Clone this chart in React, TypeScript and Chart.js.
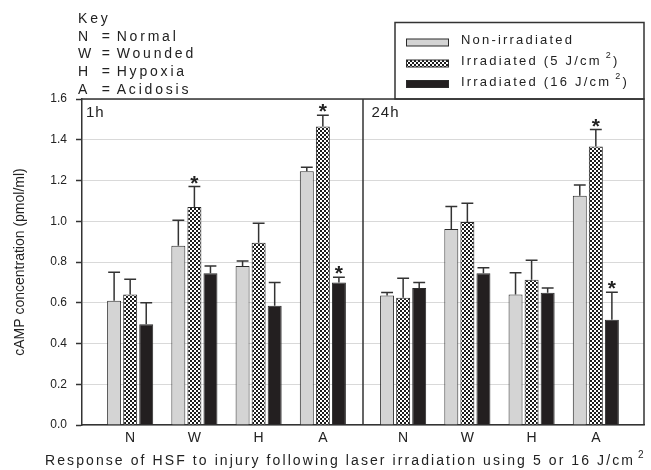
import React, { useEffect, useRef } from 'react';
import { Chart, registerables } from 'chart.js';

Chart.register(...registerables);

// ---------- data ----------
const panels = ['1h', '24h'];
const groups = ['N', 'W', 'H', 'A'];
const keyNames = ['Normal', 'Wounded', 'Hypoxia', 'Acidosis'];
const seriesLabels = ['Non-irradiated', 'Irradiated (5 J/cm²)', 'Irradiated (16 J/cm²)'];

// order: 1h (N, W, H, A), then 24h (N, W, H, A)
const nonIrradiated = [0.61, 0.88, 0.78, 1.245, 0.635, 0.962, 0.64, 1.125];
const nonIrradiatedErr = [0.14, 0.125, 0.025, 0.02, 0.015, 0.11, 0.107, 0.053];
const irradiated5 = [0.64, 1.07, 0.895, 1.465, 0.625, 0.996, 0.713, 1.367];
const irradiated5Err = [0.075, 0.1, 0.095, 0.055, 0.095, 0.092, 0.095, 0.083];
const irradiated16 = [0.495, 0.745, 0.585, 0.7, 0.673, 0.745, 0.649, 0.517];
const irradiated16Err = [0.105, 0.035, 0.115, 0.025, 0.027, 0.027, 0.024, 0.135];
const sigNon = [false, false, false, false, false, false, false, false];
const sig5 = [false, true, false, true, false, false, false, true];
const sig16 = [false, false, false, true, false, false, false, true];

const yTicks = [0, 0.2, 0.4, 0.6, 0.8, 1.0, 1.2, 1.4, 1.6];
const xTitle = 'Response of HSF to injury following laser irradiation using 5 or 16 J/cm²';
const yTitle = 'cAMP concentration (pmol/ml)';
const keyTitle = 'Key';

// ---------- layout (in bar-slot units on a linear x scale) ----------
const PANEL_SLOTS = 17.5;
const PANEL_OFFSETS = [3, 2.5];
const GROUP_STEP = 4;
const FONT = '"Liberation Sans", Arial, Helvetica, sans-serif';

function groupCenter(p: number, g: number) {
  return p * PANEL_SLOTS + PANEL_OFFSETS[p] + GROUP_STEP * g;
}

function makePattern(): CanvasPattern | string {
  const c = document.createElement('canvas');
  c.width = 4;
  c.height = 4;
  const g = c.getContext('2d');
  if (!g) return '#555';
  g.fillStyle = '#1c1c1c';
  g.fillRect(0, 0, 4, 4);
  g.fillStyle = '#ffffff';
  g.fillRect(0, 0, 2, 2);
  g.fillRect(2, 2, 2, 2);
  const ctx = document.createElement('canvas').getContext('2d');
  return (ctx && ctx.createPattern(c, 'repeat')) || '#555';
}

function drawSup(ctx: CanvasRenderingContext2D, text: string, x: number, y: number, size: number, spacing: number, supSize: number, rise: number, gap: number) {
  const parts = text.split('²');
  ctx.textAlign = 'left';
  ctx.textBaseline = 'middle';
  ctx.font = `${size}px ${FONT}`;
  (ctx as any).letterSpacing = `${spacing}px`;
  ctx.fillText(parts[0], x, y);
  let cx = x + ctx.measureText(parts[0]).width;
  if (parts.length > 1) {
    cx += gap;
    ctx.font = `${supSize}px ${FONT}`;
    ctx.fillText('2', cx, y - rise);
    cx += ctx.measureText('2').width;
    ctx.font = `${size}px ${FONT}`;
    ctx.fillText(parts[1], cx, y);
  }
  (ctx as any).letterSpacing = '0px';
}

export default function App() {
  const ref = useRef<HTMLCanvasElement | null>(null);

  useEffect(() => {
    if (!ref.current) return;
    const pattern = makePattern();
    const values = [nonIrradiated, irradiated5, irradiated16];
    const errs = [nonIrradiatedErr, irradiated5Err, irradiated16Err];
    const sigs = [sigNon, sig5, sig16];
    const fills = ['#d4d4d4', pattern, '#231f20'];

    const datasets = values.map((vals, s) => ({
      label: seriesLabels[s],
      data: vals.map((v, i) => {
        const p = Math.floor(i / groups.length);
        const g = i % groups.length;
        return { x: groupCenter(p, g) + (s - 1), y: v };
      }),
      backgroundColor: fills[s] as any,
      borderColor: '#2b2b2b',
      borderWidth: 1,
      grouped: false,
      barPercentage: 0.87,
      categoryPercentage: 1,
    }));

    const tickPositions: number[] = [];
    const tickNames: Record<string, string> = {};
    panels.forEach((_, p) => groups.forEach((g, gi) => {
      const c = groupCenter(p, gi);
      tickPositions.push(c);
      tickNames[String(c)] = g;
    }));

    const decor = {
      id: 'decor',
      afterDatasetsDraw(chart: any) {
        const ctx: CanvasRenderingContext2D = chart.ctx;
        const ys = chart.scales.y;
        ctx.save();
        datasets.forEach((ds, s) => {
          const meta = chart.getDatasetMeta(s);
          meta.data.forEach((el: any, i: number) => {
            const { x, y, width } = el.getProps(['x', 'y', 'width'], true);
            const top = ys.getPixelForValue(values[s][i] + errs[s][i]);
            const cap = width * 0.85;
            ctx.strokeStyle = '#333';
            ctx.lineWidth = 1.5;
            ctx.beginPath();
            ctx.moveTo(x, y);
            ctx.lineTo(x, top);
            ctx.moveTo(x - cap / 2, top);
            ctx.lineTo(x + cap / 2, top);
            ctx.stroke();
            if (sigs[s][i]) {
              ctx.fillStyle = '#222';
              ctx.font = `bold 21px ${FONT}`;
              ctx.textAlign = 'center';
              ctx.textBaseline = 'alphabetic';
              const m = ctx.measureText('*');
              ctx.fillText('*', x, top - 3 - m.actualBoundingBoxDescent);
            }
          });
        });
        ctx.restore();
      },
      afterDraw(chart: any) {
        const ctx: CanvasRenderingContext2D = chart.ctx;
        const { left, right, top, bottom } = chart.chartArea;
        const xs = chart.scales.x;
        ctx.save();
        ctx.strokeStyle = '#333';
        ctx.lineWidth = 1.5;
        // frame: top, right, panel divider
        const div = xs.getPixelForValue(PANEL_SLOTS);
        ctx.beginPath();
        ctx.moveTo(left, top);
        ctx.lineTo(right, top);
        ctx.lineTo(right, bottom);
        ctx.moveTo(div, top);
        ctx.lineTo(div, bottom);
        ctx.stroke();

        // legend box
        const lx0 = 395, ly0 = 22.5;
        ctx.strokeRect(lx0, ly0, right - lx0, top - ly0);
        const textY = [40, 61, 82];
        const swY = [42.5, 63.5, 84];
        seriesLabels.forEach((lab, s) => {
          ctx.fillStyle = fills[s] as any;
          ctx.fillRect(406, swY[s] - 3.5, 43, 7);
          ctx.lineWidth = 1;
          ctx.strokeStyle = '#2b2b2b';
          ctx.strokeRect(406.5, swY[s] - 3.5, 42, 7);
          ctx.fillStyle = '#222';
          drawSup(ctx, lab, 461, textY[s], 13, 2.2, 9, 5, 4);
        });

        // key
        ctx.fillStyle = '#222';
        ctx.font = `14px ${FONT}`;
        (ctx as any).letterSpacing = '2.8px';
        ctx.textAlign = 'left';
        ctx.textBaseline = 'middle';
        ctx.fillText(keyTitle, 78, 19.5);
        groups.forEach((g, i) => {
          const y = 36.8 + 17.7 * i;
          ctx.fillText(g, 78, y);
          ctx.fillText('=', 101.7, y);
          ctx.fillText(keyNames[i], 116.7, y);
        });

        // panel labels
        ctx.font = `15px ${FONT}`;
        (ctx as any).letterSpacing = '1px';
        panels.forEach((p, i) => {
          const x0 = xs.getPixelForValue(i * PANEL_SLOTS);
          ctx.fillText(p, x0 + (i === 0 ? 4 : 8.5), 113);
        });

        // x title
        const main = xTitle.split('²')[0];
        ctx.font = `14px ${FONT}`;
        (ctx as any).letterSpacing = '0px';
        const w0 = ctx.measureText(main).width;
        const sp = (590 - w0) / main.length;
        drawSup(ctx, xTitle, 45, 461, 14, sp, 10, 6, 3);
        ctx.restore();
      },
    };

    const chart = new Chart(ref.current, {
      type: 'bar',
      data: { datasets: datasets as any },
      options: {
        animation: false,
        responsive: false,
        devicePixelRatio: 1,
        layout: { padding: { left: 0, top: 99, right: 7, bottom: 0 } },
        plugins: { legend: { display: false }, tooltip: { enabled: false }, title: { display: false } },
        scales: {
          x: {
            type: 'linear',
            offset: false,
            min: 0,
            max: PANEL_SLOTS * 2,
            grid: { display: false, drawTicks: false },
            border: { display: true, color: '#333', width: 1.5 },
            afterBuildTicks: (scale: any) => {
              scale.ticks = tickPositions.map((v) => ({ value: v }));
            },
            afterFit: (scale: any) => {
              scale.height = 45;
            },
            ticks: {
              autoSkip: false,
              maxRotation: 0,
              padding: 5,
              color: '#222',
              font: { family: FONT, size: 14 },
              callback: (v: any) => tickNames[String(v)] ?? '',
            },
          },
          y: {
            min: 0,
            max: 1.6,
            afterBuildTicks: (scale: any) => {
              scale.ticks = yTicks.map((v) => ({ value: v }));
            },
            afterFit: (scale: any) => {
              scale.width = 82;
            },
            grid: { color: '#d9d9d9', lineWidth: 1, tickLength: 6, tickColor: '#333', tickWidth: 1.5 } as any,
            border: { display: true, color: '#333', width: 1.5 },
            ticks: {
              padding: 9,
              color: '#222',
              font: { family: FONT, size: 12 },
              callback: (v: any) => Number(v).toFixed(1),
            },
            title: {
              display: true,
              text: yTitle,
              color: '#222',
              font: { family: FONT, size: 14 },
              padding: { top: 12, bottom: 0 },
            },
          },
        },
      },
      plugins: [decor],
    });
    return () => chart.destroy();
  }, []);

  return (
    <div style={{ position: 'fixed', left: 0, top: 0, width: 651, height: 470, background: '#fff' }}>
      <canvas ref={ref} width={651} height={470} />
    </div>
  );
}
